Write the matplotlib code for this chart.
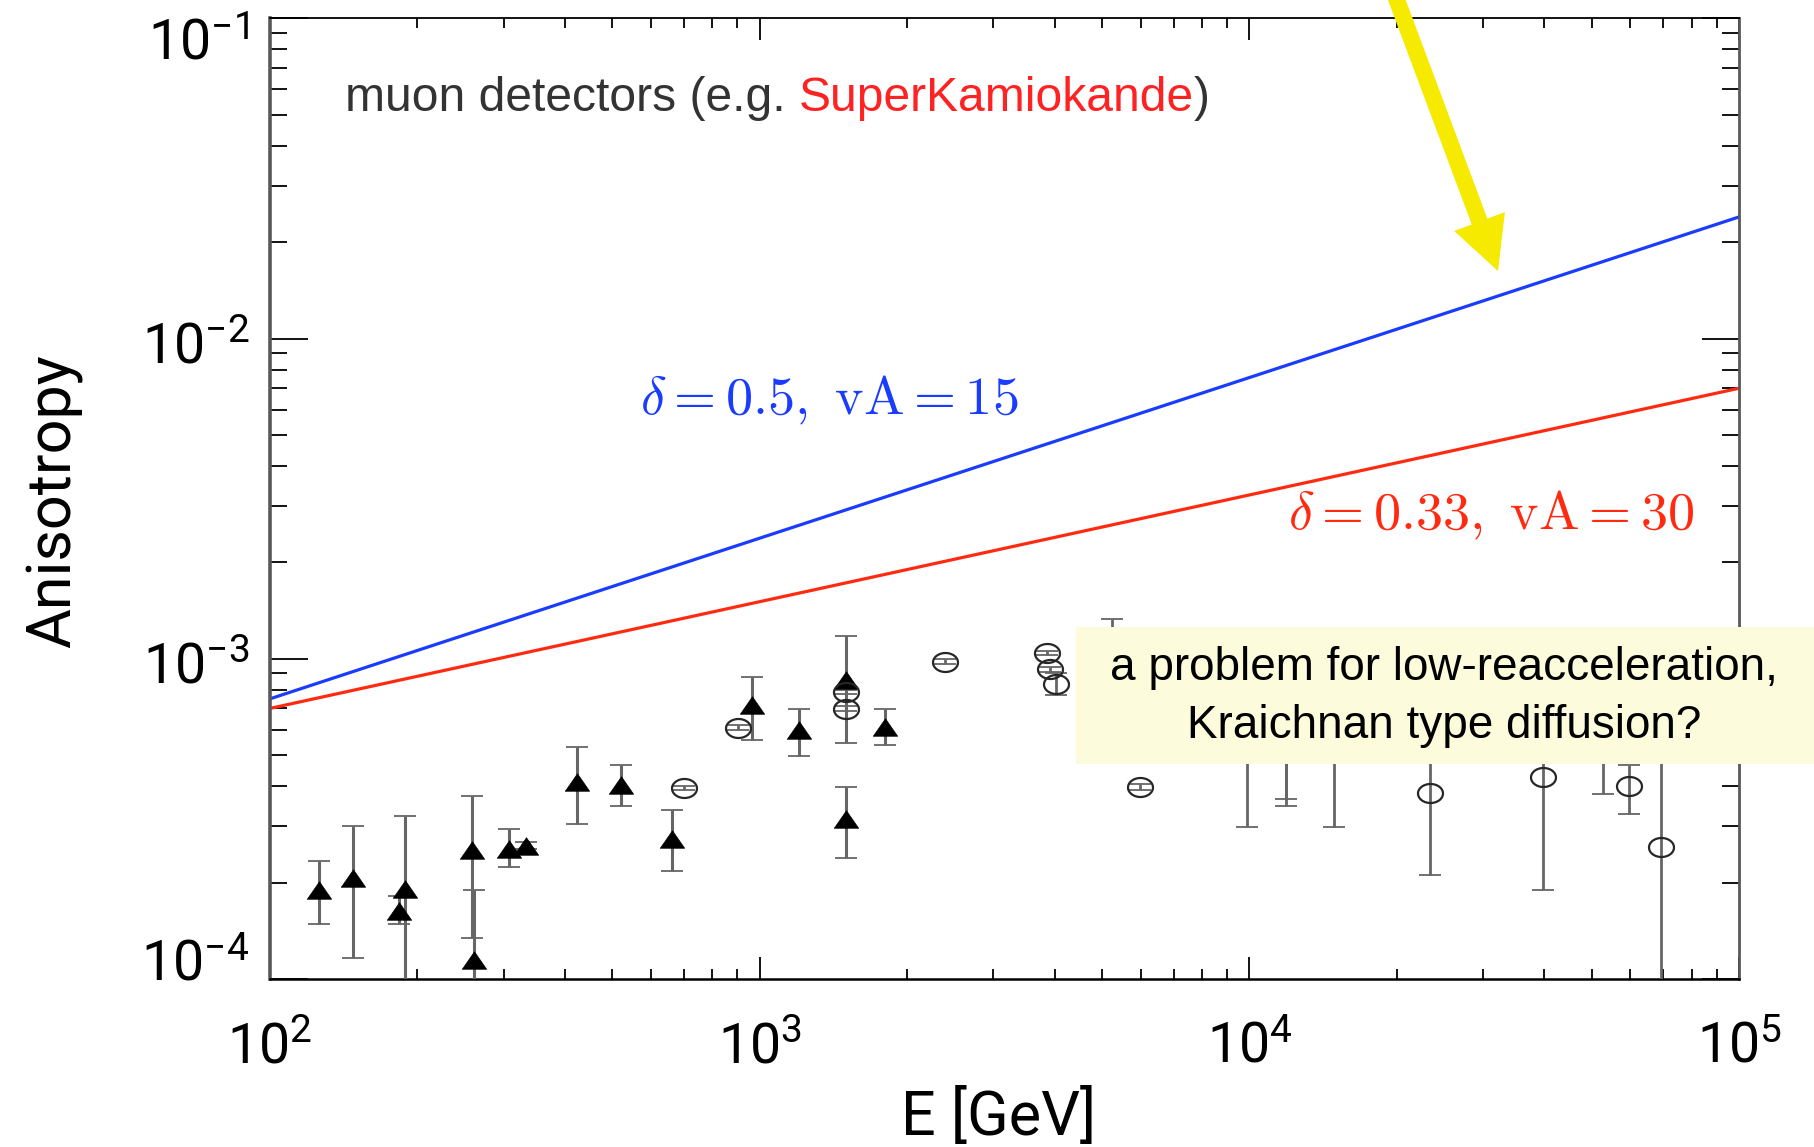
import numpy as np
import matplotlib
matplotlib.use('Agg')
import matplotlib.pyplot as plt
from matplotlib.patches import Rectangle
from matplotlib.path import Path
from matplotlib.transforms import ScaledTranslation
from matplotlib.ticker import LogLocator, NullFormatter

plt.rcParams['font.family'] = 'Roboto'
plt.rcParams['font.weight'] = 'normal'
plt.rcParams['mathtext.default'] = 'regular'

# model predictions (straight lines in log-log, end points only)
line_E = [1e2, 1e5]
aniso_d05 = [7.5e-4, 2.4e-2]
aniso_d033 = [7.0e-4, 7.0e-3]

# filled triangles: energy [GeV], anisotropy, lower / upper end of error bar
tri_E = [126, 148, 183, 189, 258, 261, 307, 333, 423, 521, 662,
         962, 1202, 1500, 1500, 1803]
tri_A = [1.90e-4, 2.06e-4, 1.63e-4, 1.91e-4, 2.52e-4, 1.15e-4, 2.55e-4, 2.61e-4,
         4.12e-4, 4.04e-4, 2.74e-4, 7.16e-4, 5.98e-4, 8.57e-4, 3.17e-4, 6.12e-4]
tri_lo = [1.48e-4, 1.16e-4, 1.48e-4, 5.0e-5, 1.34e-4, 5.0e-5, 2.24e-4, 2.55e-4,
          3.05e-4, 3.48e-4, 2.18e-4, 5.56e-4, 4.97e-4, 5.47e-4, 2.39e-4, 5.37e-4]
tri_hi = [2.33e-4, 3.00e-4, 1.81e-4, 3.22e-4, 3.73e-4, 1.90e-4, 2.93e-4, 2.68e-4,
          5.30e-4, 4.67e-4, 3.37e-4, 8.75e-4, 6.95e-4, 1.18e-3, 3.97e-4, 6.95e-4]

# open circles
circ_E = [700, 902, 1500, 1500, 2393, 3855, 3913, 4025, 5985,
          23400, 39800, 59600, 69200,
          5250, 9900, 11900, 11900, 14900, 52600]
circ_A = [3.96e-4, 6.10e-4, 7.87e-4, 6.99e-4, 9.77e-4, 1.045e-3, 9.27e-4, 8.36e-4, 3.97e-4,
          3.81e-4, 4.27e-4, 4.02e-4, 2.58e-4,
          1.0e-3, 6.0e-4, 5.5e-4, 5.6e-4, 6.0e-4, 5.5e-4]
circ_lo = [3.90e-4, 6.00e-4, 7.75e-4, 6.85e-4, 9.60e-4, 1.03e-3, 9.10e-4, 7.73e-4, 3.90e-4,
           2.11e-4, 1.89e-4, 3.28e-4, 5.0e-5,
           7.5e-4, 2.98e-4, 3.66e-4, 3.48e-4, 2.98e-4, 3.79e-4]
circ_hi = [4.02e-4, 6.20e-4, 8.00e-4, 7.10e-4, 9.95e-4, 1.06e-3, 9.45e-4, 9.00e-4, 4.05e-4,
           5.5e-4, 6.5e-4, 4.67e-4, 7.0e-4,
           1.33e-3, 9.0e-4, 7.5e-4, 7.6e-4, 9.0e-4, 7.5e-4]

# squat triangle and flattened ring used as symbols
tri_marker = Path([(-1, -0.72), (1, -0.72), (0, 0.72), (-1, -0.72)])
t = np.linspace(0, 2 * np.pi, 60)
ring_marker = Path(np.column_stack([np.cos(t), 0.76 * np.sin(t)]))

fig = plt.figure(figsize=(18.15, 11.47), dpi=100)
ax = fig.add_axes([0.1488, 0.1465, 0.8094, 0.8374])
ax.set_xscale('log')
ax.set_yscale('log')

ax.plot(line_E, aniso_d05, color='#1a3cff', lw=2.3, zorder=2)
ax.plot(line_E, aniso_d033, color='#ff2a10', lw=2.3, zorder=2)

tri_A = np.array(tri_A)
eb = ax.errorbar(tri_E, tri_A, yerr=[tri_A - np.array(tri_lo), np.array(tri_hi) - tri_A],
                 fmt='none', ecolor='0.4', elinewidth=2.2, capsize=8, capthick=1.3,
                 zorder=3)
for cap in eb[1]:
    cap.set_color('black')
ax.plot(tri_E, tri_A, ls='none', marker=tri_marker, ms=17.5, mfc='black', mec='black',
        mew=0.5, zorder=4)

circ_A = np.array(circ_A)
eb = ax.errorbar(circ_E, circ_A, yerr=[circ_A - np.array(circ_lo), np.array(circ_hi) - circ_A],
                 fmt='none', ecolor='0.4', elinewidth=2.0, capsize=8, capthick=1.3,
                 zorder=3)
for cap in eb[1]:
    cap.set_color('black')
ax.plot(circ_E, circ_A, ls='none', marker=ring_marker, ms=18, mfc='none', mec='0.15',
        mew=1.6, zorder=4)

ax.set_xlim(1e2, 1e5)
ax.set_ylim(1e-4, 1e-1)

for a in (ax.xaxis, ax.yaxis):
    a.set_major_locator(LogLocator(base=10))
    a.set_minor_locator(LogLocator(base=10, subs=np.arange(2, 10)))
    a.set_minor_formatter(NullFormatter())
ax.tick_params(which='both', direction='in', top=True, right=True, width=1.3,
               labelsize=40, colors='black')
ax.tick_params(axis='y', which='major', length=27, pad=15)
ax.tick_params(axis='y', which='minor', length=12)
ax.tick_params(axis='x', which='major', length=16, pad=30)
ax.tick_params(axis='x', which='minor', length=7)
for s in ax.spines.values():
    s.set_linewidth(1.3)
ax.spines['left'].set_linewidth(2.6)
ax.spines['left'].set_color('0.35')
ax.spines['right'].set_linewidth(2.0)
ax.spines['right'].set_color('0.35')
ax.spines['bottom'].set_linewidth(1.8)

# keep the end labels of the y axis inside the frame height
fig.canvas.draw()
for tick, loc in zip(ax.yaxis.get_major_ticks(), ax.yaxis.get_majorticklocs()):
    if np.isclose(loc, 1e-1):
        dy = -20
    elif np.isclose(loc, 1e-4):
        dy = 19
    else:
        dy = -3
    tick.label1.set_transform(tick.label1.get_transform()
                              + ScaledTranslation(0, dy / 100, fig.dpi_scale_trans))

fig.text(54 / 1815, 1 - 501 / 1147, 'Anisotropy', rotation=90, ha='center', va='center',
         fontsize=44)
fig.text(999 / 1815, 1 - 1117 / 1147, 'E [GeV]', ha='center', va='center', fontsize=44)

# detector label in two colours
t1 = ax.text(0.051, 0.9037, 'muon detectors (e.g.', transform=ax.transAxes,
             family='Liberation Sans', fontsize=34.6, color='#333333', va='baseline')
t2 = ax.annotate('SuperKamiokande', xy=(1, 0), xycoords=t1, xytext=(9.5, 0),
                 textcoords='offset points', family='Liberation Sans',
                 fontsize=34.6, color='#ff2222', va='bottom')
ax.annotate(')', xy=(1, 0), xycoords=t2, family='Liberation Sans',
            fontsize=34.6, color='#333333', va='bottom')

ax.text(0.252, 0.588, r'$\mathrm{\delta = 0.5,\ vA = 15}$', transform=ax.transAxes,
        color='#1a3cff', fontsize=39, math_fontfamily='cm', va='baseline')
ax.text(0.693, 0.4675, r'$\mathrm{\delta = 0.33,\ vA = 30}$', transform=ax.transAxes,
        color='#ff2a10', fontsize=39, math_fontfamily='cm', va='baseline')

# yellow note box over the plot
fig.add_artist(Rectangle((1076 / 1815, 1 - 764 / 1147), 1 - 1076 / 1815, 137 / 1147,
                         transform=fig.transFigure, facecolor='#fcfbdc',
                         edgecolor='none', zorder=5))
fig.text(0.7956, 1 - 668 / 1147, 'a problem for low-reacceleration,', ha='center',
         va='center', family='Liberation Sans', fontsize=33, zorder=6)
fig.text(0.7956, 1 - 726 / 1147, 'Kraichnan type diffusion?', ha='center',
         va='center', family='Liberation Sans', fontsize=33, zorder=6)

# yellow arrow coming in from the top
ax.annotate('', xy=(1498, 1147 - 271), xycoords='figure pixels',
            xytext=(1395, 1147 + 5), textcoords='figure pixels',
            arrowprops=dict(facecolor='#f5ea00', edgecolor='none', width=12,
                            headwidth=39, headlength=38),
            annotation_clip=False)

fig.savefig('out.png', dpi=100)
